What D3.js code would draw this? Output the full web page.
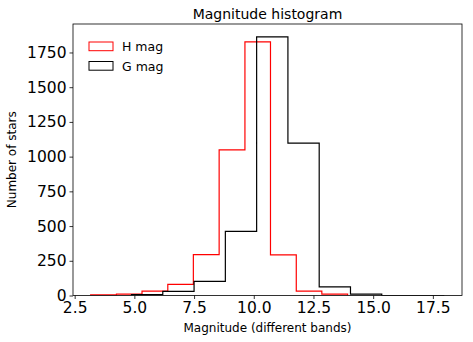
<!DOCTYPE html>
<html>
<head>
<meta charset="utf-8">
<script src="https://cdn.jsdelivr.net/npm/d3@7"></script>
<style>
  body { margin: 0; background: #fff; }
  text { font-family: "DejaVu Sans", sans-serif; fill: #000; }
</style>
</head>
<body>
<div id="chart"></div>
<script>
'use strict';
// bin edges and counts (10 bins each)
const hEdges = [3.17, 4.25, 5.32, 6.40, 7.47, 8.55, 9.63, 10.70, 11.78, 12.85, 13.93];
const hCounts = [5, 10, 32, 80, 295, 1048, 1826, 293, 32, 10];
const gEdges = [4.88, 6.19, 7.50, 8.81, 10.12, 11.43, 12.74, 14.05, 15.36, 16.67, 17.98];
const gCounts = [7, 30, 102, 462, 1862, 1097, 62, 10, 0, 0];
const xTicks = [2.5, 5.0, 7.5, 10.0, 12.5, 15.0, 17.5];
const yTicks = [0, 250, 500, 750, 1000, 1250, 1500, 1750];
const seriesNames = ["H mag", "G mag"];
const seriesColors = ["#ff0000", "#000000"];

function drawHistogram(divId) {
  let width = 473, height = 342;
  let margin = { left: 73, right: 11, top: 24, bottom: 46.5 };
  let svg = d3.select("#" + divId).append("svg")
    .attr("width", width)
    .attr("height", height);

  let x = d3.scaleLinear()
    .domain([2.43, 18.72])
    .range([margin.left, width - margin.right]);
  let y = d3.scaleLinear()
    .domain([0, 1955])
    .range([height - margin.bottom, margin.top]);

  svg.append("clipPath").attr("id", "plotclip")
    .append("rect")
    .attr("x", margin.left).attr("y", margin.top)
    .attr("width", width - margin.left - margin.right)
    .attr("height", height - margin.top - margin.bottom);

  // step outline like histtype='step'
  function stepPath(edges, counts) {
    let pts = [[x(edges[0]), y(0)]];
    for (let i = 0; i < counts.length; ++i) {
      pts.push([x(edges[i]), y(counts[i])]);
      pts.push([x(edges[i + 1]), y(counts[i])]);
    }
    pts.push([x(edges[edges.length - 1]), y(0)]);
    return d3.line()(pts);
  }

  let plot = svg.append("g").attr("clip-path", "url(#plotclip)");
  [[hEdges, hCounts], [gEdges, gCounts]].forEach(function (s, i) {
    plot.append("path")
      .attr("d", stepPath(s[0], s[1]))
      .attr("fill", "none")
      .attr("stroke", seriesColors[i])
      .attr("stroke-width", 1.2)
      .attr("stroke-linejoin", "miter");
  });

  // axes
  let xAxis = d3.axisBottom(x).tickValues(xTicks).tickFormat(d3.format(".1f"))
    .tickSizeOuter(0).tickSize(3.5).tickPadding(3);
  let yAxis = d3.axisLeft(y).tickValues(yTicks).tickFormat(d3.format("d"))
    .tickSizeOuter(0).tickSize(3.5).tickPadding(3);

  let gx = svg.append("g")
    .attr("transform", "translate(0," + (height - margin.bottom) + ")")
    .call(xAxis);
  let gy = svg.append("g")
    .attr("transform", "translate(" + margin.left + ",0)")
    .call(yAxis);
  [gx, gy].forEach(function (g) {
    g.select(".domain").remove();
    g.selectAll("text").style("font-family", "DejaVu Sans").attr("font-size", "15.5px").attr("fill", "#000");
    g.selectAll("line").attr("stroke", "#000").attr("stroke-width", 0.8);
  });

  // frame
  svg.append("rect")
    .attr("x", margin.left).attr("y", margin.top)
    .attr("width", width - margin.left - margin.right)
    .attr("height", height - margin.top - margin.bottom)
    .attr("fill", "none")
    .attr("stroke", "#000")
    .attr("stroke-width", 0.8);

  // title and labels
  let cx = (margin.left + width - margin.right) / 2;
  svg.append("text")
    .attr("x", cx).attr("y", 18.5)
    .attr("text-anchor", "middle")
    .attr("font-size", "14px")
    .text("Magnitude histogram");
  svg.append("text")
    .attr("x", cx).attr("y", 332)
    .attr("text-anchor", "middle")
    .attr("font-size", "12px")
    .text("Magnitude (different bands)");
  svg.append("text")
    .attr("transform", "translate(16," + ((margin.top + height - margin.bottom) / 2) + ") rotate(-90)")
    .attr("text-anchor", "middle")
    .attr("font-size", "12px")
    .text("Number of stars");

  // legend
  let legend = svg.append("g").attr("transform", "translate(89,42)");
  seriesNames.forEach(function (name, i) {
    legend.append("rect")
      .attr("x", 0).attr("y", i * 19.5)
      .attr("width", 24).attr("height", 8.7)
      .attr("fill", "none")
      .attr("stroke", seriesColors[i])
      .attr("stroke-width", 1);
    legend.append("text")
      .attr("x", 33).attr("y", i * 19.5 + 9)
      .attr("font-size", "12.5px")
      .text(name);
  });
}
drawHistogram("chart");
</script>
</body>
</html>
